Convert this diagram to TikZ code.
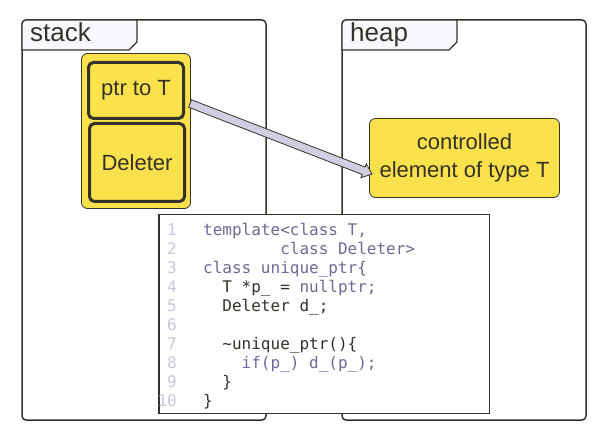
\documentclass[tikz,border=0pt]{standalone}
\usepackage{fontspec}
\setmainfont{Liberation Sans}
\newfontfamily\codefont{DejaVu Sans Mono}
\usetikzlibrary{calc}
\definecolor{dark}{HTML}{353229}
\definecolor{codepurple}{HTML}{6D6A97}
\definecolor{lnum}{HTML}{C9C7DC}
\definecolor{ylw}{HTML}{FBE14B}
\definecolor{lav}{HTML}{D0CEE0}
\definecolor{tabfill}{HTML}{F9F9FD}
\tikzset{
  frameline/.style={draw=dark, line width=1.5pt},
  tabshape/.style={draw=dark, line width=1.2pt, fill=tabfill},
  tablabel/.style={anchor=base west, inner sep=0pt, text=dark, font=\fontsize{26}{30}\selectfont},
  cell/.style={draw=dark, fill=ylw, line width=3pt, rounded corners=5pt, inner sep=0pt, text=dark, font=\fontsize{22}{28}\selectfont},
  holder/.style={draw=dark, fill=ylw, line width=0.8pt, rounded corners=6pt, inner sep=0pt},
  elembox/.style={draw=dark, fill=ylw, line width=0.8pt, rounded corners=6pt, inner sep=0pt, text=dark, align=center, font=\fontsize{22}{28}\selectfont},
  codebox/.style={draw=dark, fill=white, line width=1.5pt, inner sep=0pt},
  lnumtxt/.style={anchor=base east, inner sep=0pt, text=lnum, font=\codefont\fontsize{16}{19}\selectfont},
  codetxt/.style={anchor=base west, inner sep=0pt, text=codepurple, font=\codefont\fontsize{16}{19}\selectfont},
  darktxt/.style={codetxt, text=dark},
}
\begin{document}
\begin{tikzpicture}[x=1pt,y=-1pt]
\useasboundingbox (0,0) rectangle (607,443);
% frames
\draw[frameline, rounded corners=4pt] (22,20) rectangle (266,420);
\draw[tabshape] (22,50) [rounded corners=4pt] -- (22,20) [sharp corners] -- (137,20) -- (137,42) -- (129,50) -- cycle;
\node[tablabel] (stacklbl) at (30,41.5) {stack};
\draw[frameline, rounded corners=4pt] (342,20) rectangle (586,420);
\draw[tabshape] (342,50) [rounded corners=4pt] -- (342,20) [sharp corners] -- (457,20) -- (457,42) -- (449,50) -- cycle;
\node[tablabel] (heaplbl) at (350,41.5) {heap};
% stack object
\node[holder, minimum width=109pt, minimum height=155pt] (holder) at (136,131) {};
\node[cell, minimum width=95pt, minimum height=56pt] (ptr) at (136,90.5) {ptr to T};
\node[cell, minimum width=95pt, minimum height=78pt] (del) at (137,162.5) {Deleter};
% heap element
\node[elembox, minimum width=190pt, minimum height=79pt] (elem) at (464.5,158) {controlled\\element of type T};
% arrow
\coordinate (as) at (190,103.5);
\coordinate (at) at (372,174);
\coordinate (ab) at ($(at)!9pt!(as)$);
\filldraw[fill=lav, draw=dark, line width=0.8pt, line join=miter]
  ($(as)!4pt!90:(at)$) -- ($(ab)!4pt!-90:(as)$) -- ($(ab)!7.5pt!-90:(as)$) -- (at)
  -- ($(ab)!7.5pt!90:(as)$) -- ($(ab)!4pt!90:(as)$) -- ($(as)!4pt!-90:(at)$) -- cycle;
% code box
\node[codebox, minimum width=330.5pt, minimum height=198.5pt] (code) at (324,314) {};
\foreach \k in {1,...,10}{
  \node[lnumtxt] (n\k) at (177,{235.5+19*(\k-1)}) {\k};
}
\node[codetxt] (c1) at (203,235.5) {template<class T,};
\node[codetxt] (c2) at (203,254.5) {\phantom{template}class Deleter>};
\node[codetxt] (c3) at (203,273.5) {class unique\_ptr\{};
\node[darktxt] (c4) at (203,292.5) {\phantom{xx}T *p\_ = \textcolor{codepurple}{nullptr;}};
\node[darktxt] (c5) at (203,311.5) {\phantom{xx}Deleter d\_;};
\node[darktxt] (c7) at (203,349.5) {\phantom{xx}\textasciitilde unique\_ptr()\{};
\node[codetxt] (c8) at (203,368.5) {\phantom{xxxx}if(p\_) d\_(p\_);};
\node[darktxt] (c9) at (203,387.5) {\phantom{xx}\}};
\node[darktxt] (c10) at (203,406.5) {\}};
\end{tikzpicture}
\end{document}
